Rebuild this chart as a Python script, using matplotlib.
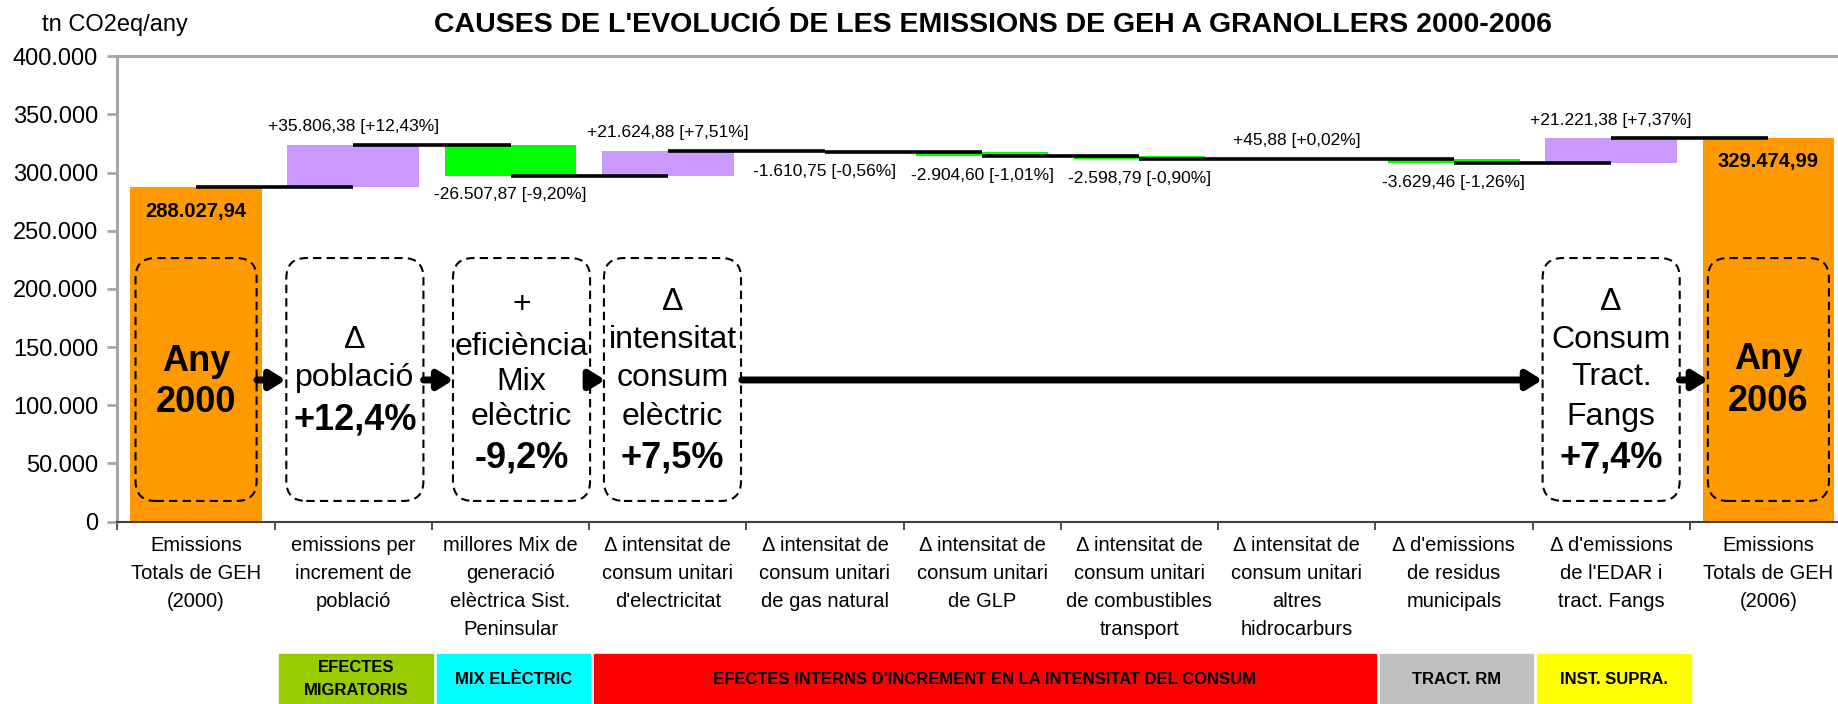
import matplotlib
matplotlib.use('Agg')
import matplotlib.pyplot as plt
import matplotlib.transforms as mtransforms
from matplotlib.patches import FancyBboxPatch, Rectangle
from matplotlib.ticker import FuncFormatter, FixedLocator
import numpy as np

plt.rcParams['font.family'] = ['Liberation Sans', 'DejaVu Sans']

# Data
categories = [
    "Emissions\nTotals de GEH\n(2000)",
    "emissions per\nincrement de\npoblació",
    "millores Mix de\ngeneració\nelèctrica Sist.\nPeninsular",
    "Δ intensitat de\nconsum unitari\nd'electricitat",
    "Δ intensitat de\nconsum unitari\nde gas natural",
    "Δ intensitat de\nconsum unitari\nde GLP",
    "Δ intensitat de\nconsum unitari\nde combustibles\ntransport",
    "Δ intensitat de\nconsum unitari\naltres\nhidrocarburs",
    "Δ d'emissions\nde residus\nmunicipals",
    "Δ d'emissions\nde l'EDAR i\ntract. Fangs",
    "Emissions\nTotals de GEH\n(2006)",
]
total_2000 = 288027.94
deltas = [35806.38, -26507.87, 21624.88, -1610.75, -2904.60, -2598.79,
          45.88, -3629.46, 21221.38]
total_2006 = 329474.99

group_labels = ["EFECTES\nMIGRATORIS", "MIX ELÈCTRIC",
                "EFECTES INTERNS D'INCREMENT EN LA INTENSITAT DEL CONSUM",
                "TRACT. RM", "INST. SUPRA."]
group_spans = [(1, 1), (2, 2), (3, 7), (8, 8), (9, 9)]
group_colors = ["#99CC00", "#00FFFF", "#FF0000", "#C0C0C0", "#FFFF00"]

# dashed summary boxes: (x centre, half width, [(text, y, size, bold)])
summary_boxes = [
    (0.0, 0.385, [("Any", 138000, 26, True), ("2000", 102500, 26, True)]),
    (1.01, 0.436, [("Δ", 156000, 23, False), ("població", 123500, 23, False),
                   ("+12,4%", 87400, 26, True)]),
    (2.07, 0.436, [("+", 186000, 23, False), ("eficiència", 150000, 23, False),
                   ("Mix", 120000, 23, False), ("elèctric", 90000, 23, False),
                   ("-9,2%", 54700, 26, True)]),
    (3.03, 0.436, [("Δ", 188800, 23, False), ("intensitat", 156000, 23, False),
                   ("consum", 123500, 23, False), ("elèctric", 90000, 23, False),
                   ("+7,5%", 54700, 26, True)]),
    (9.0, 0.436, [("Δ", 188800, 23, False), ("Consum", 156000, 23, False),
                  ("Tract.", 124400, 23, False), ("Fangs", 90000, 23, False),
                  ("+7,4%", 54700, 26, True)]),
    (10.0, 0.385, [("Any", 139000, 26, True), ("2006", 102900, 26, True)]),
]
box_y = (17800, 226600)
arrow_y = 121800
arrow_spans = [(0.387, 0.57), (1.447, 1.637), (2.505, 2.602), (3.471, 8.562), (9.434, 9.617)]


def cat_num(v, decimals=2, sign=False):
    s = f"{v:+,.{decimals}f}" if sign else f"{v:,.{decimals}f}"
    return s.replace(",", "#").replace(".", ",").replace("#", ".")


fig = plt.figure(figsize=(18.38, 7.04), dpi=100)
ax = fig.add_axes([0.0639, 0.259, 0.941, 0.661])

n = len(categories)
x = np.arange(n)
bar_w = 0.837

# totals
ax.bar([0, n - 1], [total_2000, total_2006], width=bar_w, color="#FF9900", zorder=2)

# deltas
cum = [total_2000]
for d in deltas:
    cum.append(cum[-1] + d)
for i, d in enumerate(deltas):
    prev, new = cum[i], cum[i + 1]
    col = "#CC99FF" if d > 0 else "#00FF00"
    ax.bar(i + 1, abs(d), bottom=min(prev, new), width=bar_w, color=col, zorder=2)
    pct = d / total_2000 * 100
    lab = f"{cat_num(d, sign=True)} [{cat_num(pct, sign=True)}%]"
    ty = new + 15500 if d > 0 else new - 16500
    ax.text(i + 1, ty, lab, ha="center", va="center", fontsize=12.5, zorder=5)

# connectors (centre to centre)
for i in range(n - 1):
    ax.hlines(cum[i], i, i + 1, color="black", lw=2.6, zorder=3)

ax.text(0, total_2000 - 21000, cat_num(total_2000), ha="center", va="center",
        fontsize=14.5, fontweight="bold", zorder=5)
ax.text(n - 1, total_2006 - 20000, cat_num(total_2006), ha="center", va="center",
        fontsize=14.5, fontweight="bold", zorder=5)

ax.set_xlim(-0.5, n - 0.5)
ax.set_ylim(0, 400000)

# axes styling
for s in ["top", "left", "right"]:
    ax.spines[s].set_color("#A6A6A6")
    ax.spines[s].set_linewidth(2.2)
ax.spines["bottom"].set_color("#404040")
ax.spines["bottom"].set_linewidth(1.5)
ax.spines["bottom"].set_zorder(6)

ax.set_yticks(np.arange(0, 400001, 50000))
ax.yaxis.set_major_formatter(FuncFormatter(lambda v, p: cat_num(v, 0)))
ax.tick_params(axis="y", direction="out", length=7, width=2, color="#A6A6A6",
               labelsize=17, pad=7)

ax.set_xticks(x)
ax.set_xticklabels(categories, fontsize=14.5, linespacing=1.6)
ax.xaxis.set_minor_locator(FixedLocator(np.arange(-0.5, n, 1.0)))
ax.tick_params(axis="x", which="major", length=0, pad=10)
ax.tick_params(axis="x", which="minor", direction="out", length=6, width=1.3,
               color="#404040")

# dashed summary boxes
fig.canvas.draw()
bb = ax.get_window_extent()
xu = n / bb.width
yu = 400000 / bb.height
asp = yu / xu
for xc, hw, lines in summary_boxes:
    p = FancyBboxPatch((xc - hw, box_y[0]), 2 * hw, box_y[1] - box_y[0],
                       boxstyle=f"round,pad=0,rounding_size={20 * xu:.4f}",
                       mutation_aspect=asp, fill=False, ec="black", lw=1.5,
                       ls=(0, (4, 2.5)), zorder=4)
    ax.add_patch(p)
    for txt, yy, fs, bold in lines:
        ax.text(xc, yy, txt, ha="center", va="center", fontsize=fs,
                fontweight="bold" if bold else "normal", zorder=5)

for x0, x1 in arrow_spans:
    ax.annotate("", xy=(x1, arrow_y), xytext=(x0, arrow_y),
                arrowprops=dict(arrowstyle="-|>,head_length=0.45,head_width=0.28",
                                lw=5, color="black", mutation_scale=20,
                                shrinkA=0, shrinkB=0), zorder=5)

# group boxes under the axis
trans = mtransforms.blended_transform_factory(ax.transData, fig.transFigure)
for (a, b), lab, col in zip(group_spans, group_labels, group_colors):
    x0 = a - 0.5 + 0.03
    x1 = b + 0.5 + 0.005
    ax.add_patch(Rectangle((x0, 0), x1 - x0, 0.071, transform=trans, color=col,
                           clip_on=False, zorder=1))
    ax.text((x0 + x1) / 2, 0.0355, lab, transform=trans, ha="center", va="center",
            fontsize=12, fontweight="bold", linespacing=1.65, clip_on=False)

fig.text(0.540, 0.9645, "CAUSES DE L'EVOLUCIÓ DE LES EMISSIONS DE GEH A GRANOLLERS 2000-2006",
         ha="center", va="center", fontsize=20.5, fontweight="bold")
fig.text(0.0229, 0.9645, "tn CO2eq/any", ha="left", va="center", fontsize=17)

fig.savefig("out.png", dpi=100)
